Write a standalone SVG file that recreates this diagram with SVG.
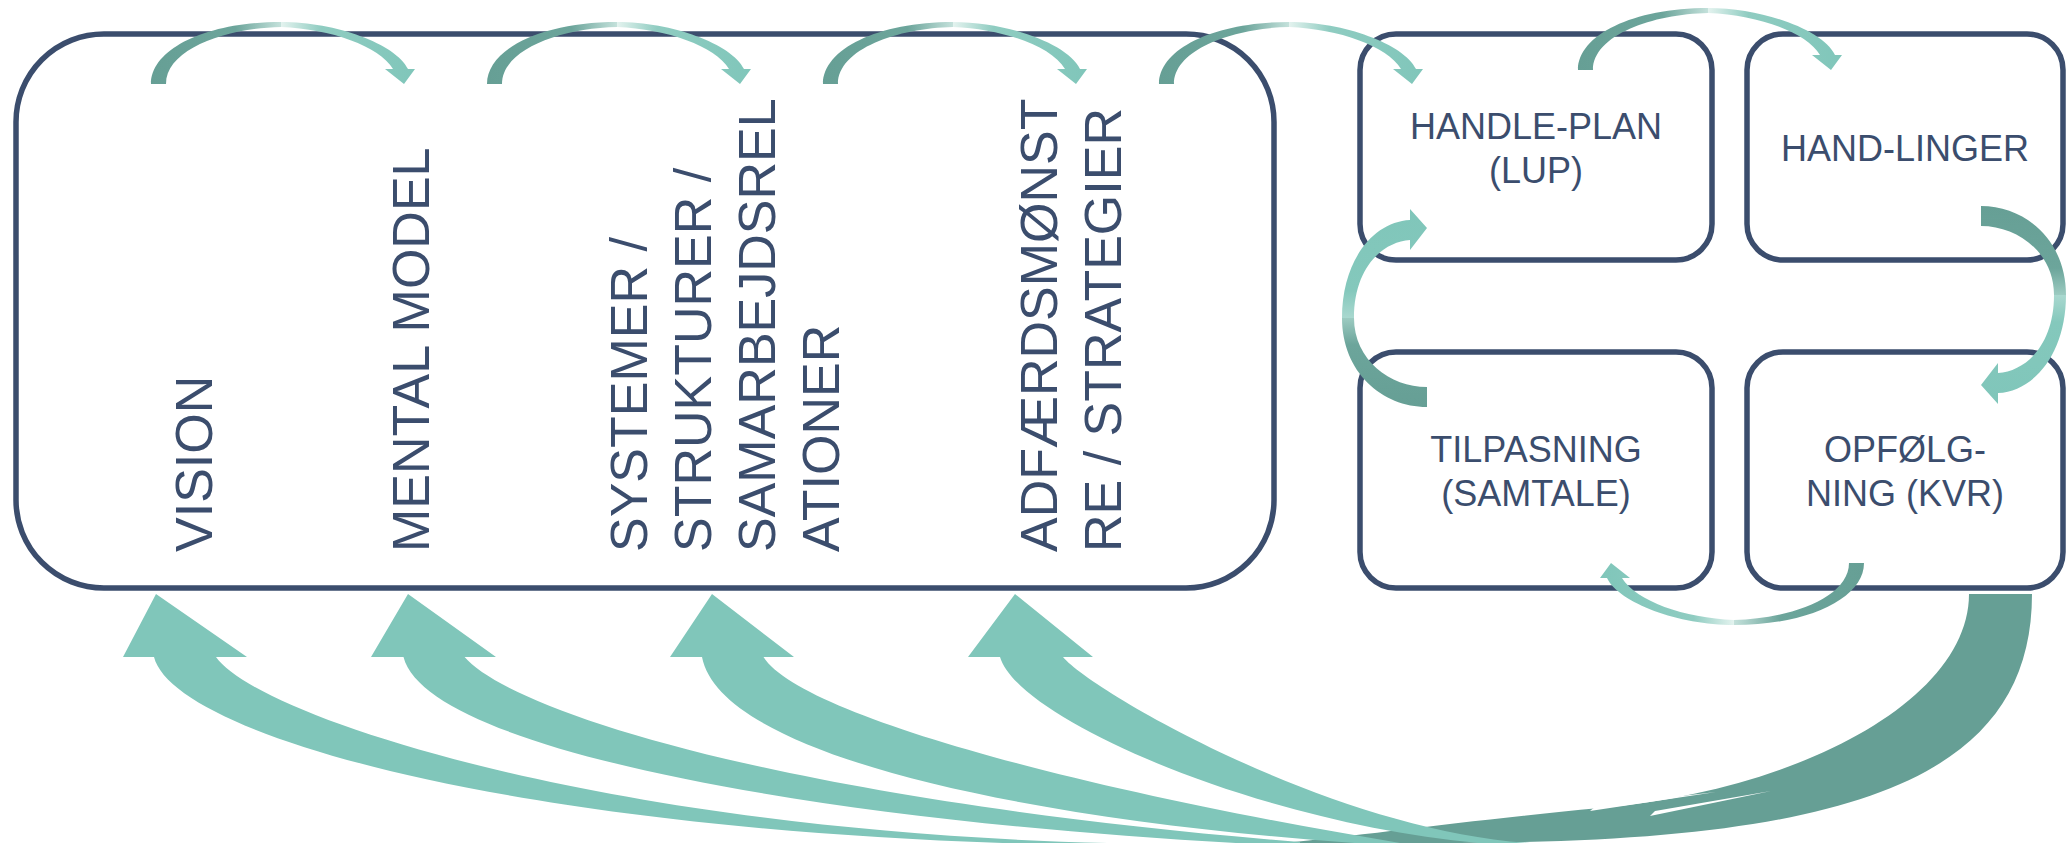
<svg xmlns="http://www.w3.org/2000/svg" width="2067" height="843" viewBox="0 0 2067 843">
<defs>
<style>
.box{fill:#fff;stroke:#3B4D6D;stroke-width:5.5}
.vt{font-family:"Liberation Sans",Arial,sans-serif;font-size:52px;fill:#3B4D6D}
.ht{font-family:"Liberation Sans",Arial,sans-serif;font-size:36px;fill:#3B4D6D;text-anchor:middle}
.lt{fill:#80C6BA}
.dk{fill:#669F95}
</style>
<linearGradient id="gDarkH" x1="0" y1="0" x2="1" y2="0">
<stop offset="0" stop-color="#669F95"/><stop offset="0.65" stop-color="#6CA59B"/><stop offset="1" stop-color="#C4E1DB"/>
</linearGradient>
<linearGradient id="gLightH" x1="0" y1="0" x2="1" y2="0">
<stop offset="0" stop-color="#E4F3EF"/><stop offset="0.3" stop-color="#8FCCC1"/><stop offset="1" stop-color="#80C6BA"/>
</linearGradient>
<linearGradient id="gDarkV" x1="0" y1="1" x2="0" y2="0">
<stop offset="0" stop-color="#669F95"/><stop offset="0.7" stop-color="#6CA59B"/><stop offset="1" stop-color="#9CCBC1"/>
</linearGradient>
<linearGradient id="gLightV" x1="0" y1="1" x2="0" y2="0">
<stop offset="0" stop-color="#A9D8CF"/><stop offset="0.25" stop-color="#84C8BC"/><stop offset="1" stop-color="#80C6BA"/>
</linearGradient>
<g id="cda">
<path fill="url(#gDarkH)" d="M0,0 C0,-35 55,-62 130,-62 L130,-57 C75,-56 15,-35 15,0 Z"/>
<path fill="url(#gLightH)" d="M130,-62 C185,-62 245,-40 257,-15 L264,-15 L253,0 L234,-15 L242,-15 C228,-38 180,-55 130,-57 Z"/>
</g>
<g id="loop">
<path fill="url(#gLightV)" d="M1342,318 C1342,262 1372,222 1410,220 L1410,209 L1427,228 L1410,250 L1410,240 C1382,242 1354,268 1354,318 Z"/>
<path fill="url(#gDarkV)" d="M1342,318 C1342,372 1382,407 1427,407 L1427,387 C1390,387 1354,360 1354,318 Z"/>
</g>
</defs>
<rect width="2067" height="843" fill="#fff"/>

<g id="main-box">
<rect class="box" x="16" y="34" width="1258" height="554" rx="88"/>
</g>
<g id="vision">
<text class="vt" transform="translate(212,552) rotate(-90)">VISION</text>
</g>
<g id="mental-model">
<text class="vt" transform="translate(429,552) rotate(-90)">MENTAL MODEL</text>
</g>
<g id="systemer">
<text class="vt" transform="translate(647,552) rotate(-90)"><tspan x="0" y="0">SYSTEMER /</tspan><tspan x="0" y="64">STRUKTURER /</tspan><tspan x="0" y="128">SAMARBEJDSREL</tspan><tspan x="0" y="192">ATIONER</tspan></text>
</g>
<g id="adfaerd">
<text class="vt" transform="translate(1057,552) rotate(-90)"><tspan x="0" y="0">ADFÆRDSMØNST</tspan><tspan x="0" y="64">RE / STRATEGIER</tspan></text>
</g>

<g id="handleplan">
<rect class="box" x="1360" y="34" width="352" height="226" rx="36"/>
<text class="ht" x="1536" y="138.5">HANDLE-PLAN</text>
<text class="ht" x="1536" y="182.5">(LUP)</text>
</g>
<g id="handlinger">
<rect class="box" x="1747" y="34" width="316" height="226" rx="36"/>
<text class="ht" x="1905" y="161">HAND-LINGER</text>
</g>
<g id="tilpasning">
<rect class="box" x="1360" y="352" width="352" height="236" rx="36"/>
<text class="ht" x="1536" y="461.5">TILPASNING</text>
<text class="ht" x="1536" y="506">(SAMTALE)</text>
</g>
<g id="opfolgning">
<rect class="box" x="1747" y="352" width="316" height="236" rx="36"/>
<text class="ht" x="1905" y="461.5">OPFØLG-</text>
<text class="ht" x="1905" y="506">NING (KVR)</text>
</g>

<g id="connectors">
<use href="#cda" transform="translate(151,84)"/>
<use href="#cda" transform="translate(487,84)"/>
<use href="#cda" transform="translate(823,84)"/>
<use href="#cda" transform="translate(1159,84)"/>
<use href="#cda" transform="translate(1578,70)"/>
<use href="#cda" transform="translate(1864,563) rotate(180)"/>
<use href="#loop"/>
<use href="#loop" transform="rotate(180 1704 306.5)"/>
<path class="dk" d="M2032,594 C2032,789 1830,845 1420,843 L1250,846 C1330,840 1450,822 1600,808 C1800,790 1969,700 1969,594 Z"/>
<g fill="#fff">
<path d="M1716,792 L1590,811 L1596,806 Z"/>
<path d="M1771,791 L1650,816 L1655,811 Z"/>
</g>
<g class="lt">
<path d="M154,657 C175,740 560,846 1180,846 L1180,844 C640,842 260,720 216,657 L247,657 L156,594 L123,657 Z"/>
<path d="M403.5,657 C430,760 900,830 1300,846 L1300,842 C780,800 510,710 464.6,657 L496,657 L408,594 L371,657 Z"/>
<path d="M702,657 C722,760 1050,825 1400,846 L1400,843 C1080,790 800,715 763.5,657 L794,657 L712,594 L670,657 Z"/>
<path d="M1000,657 C1020,725 1300,840 1530,846 L1530,843 C1330,830 1090,690 1063,657 L1093,657 L1015,594 L968,657 Z"/>
</g>
</g>
</svg>
